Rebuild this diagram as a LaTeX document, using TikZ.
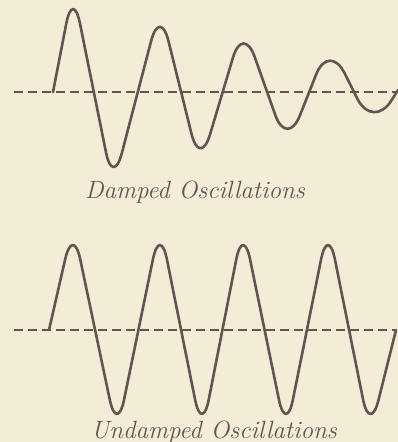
\documentclass[tikz,border=0pt]{standalone}
\usepackage{tikz}
\usetikzlibrary{positioning}

\definecolor{paper}{RGB}{243,236,214}
\definecolor{ink}{RGB}{96,86,78}

\begin{document}
\begin{tikzpicture}[
  x=1pt,y=-1pt,
  every node/.style={font=\itshape\fontsize{25}{29}\selectfont,text=ink},
  wave/.style={draw=ink,line width=2.6pt,rounded corners=35pt,line join=round,line cap=round},
  axis/.style={draw=ink,line width=1.4pt,dash pattern=on 9pt off 5pt},
  caption/.style={anchor=base,inner sep=0pt}
]

% ------------------------------------------------------------
% Paper (fixes the size of the picture)
% ------------------------------------------------------------
\fill[paper] (0,0) rectangle (398,442);
\useasboundingbox (0,0) rectangle (398,442);

% ------------------------------------------------------------
% Damped oscillations: amplitude dies away
% ------------------------------------------------------------
\draw[axis] (14,92) -- (398,92);
\draw[wave] (53,92) -- (73,-11) -- (113,187) -- (160,7) -- (200,168)
  -- (243,24) -- (287,148) -- (329,42) -- (373,130) -- (398,90);
\node[caption] (damped) at (195,198) {Damped Oscillations};

% ------------------------------------------------------------
% Undamped oscillations: constant amplitude
% ------------------------------------------------------------
\draw[axis] (14,330) -- (396,330);
\draw[wave] (49,330) -- (73,225) -- (117,434) -- (160,225) -- (202,434)
  -- (243,225) -- (286,434) -- (328,225) -- (370,434) -- (396,330);
\node[caption] (undamped) at (214,438) {Undamped Oscillations};

\end{tikzpicture}
\end{document}
